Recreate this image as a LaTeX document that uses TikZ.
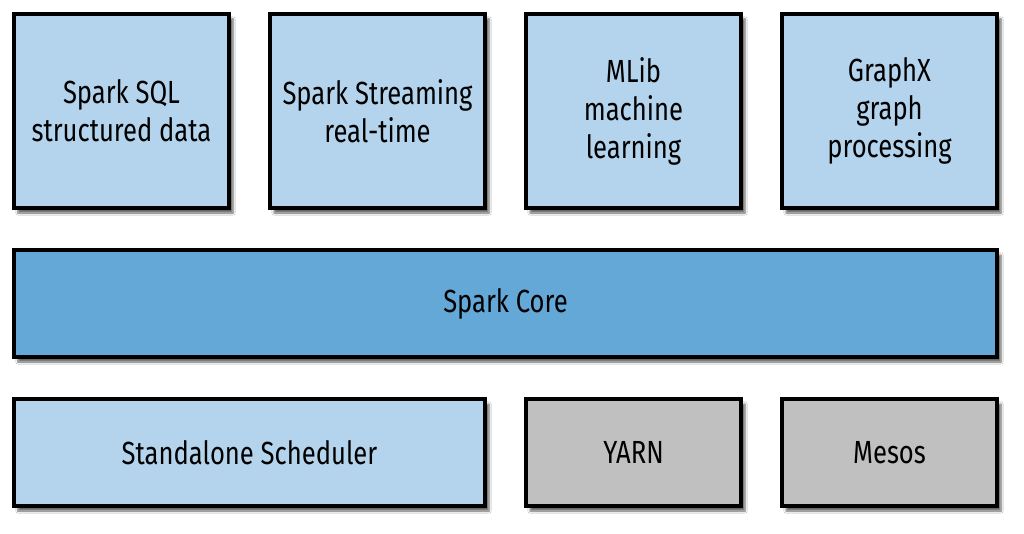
\documentclass[tikz,border=0pt]{standalone}
\usepackage{fontspec}
\setmainfont[FakeStretch=0.8]{Fira Sans}
\usetikzlibrary{shadows.blur}
\definecolor{lightblue}{HTML}{B3D4EC}
\definecolor{coreblue}{HTML}{64A8D8}
\definecolor{boxgray}{HTML}{C0C0C0}
\tikzset{
  block/.style={draw=black, line width=3.5pt, blur shadow={shadow xshift=4pt, shadow yshift=-5pt, shadow blur steps=6, shadow opacity=60},
    align=center, font=\fontsize{32}{38}\selectfont, text=black},
  lb/.style={block, fill=lightblue},
  cb/.style={block, fill=coreblue},
  gb/.style={block, fill=boxgray},
}
\begin{document}
\begin{tikzpicture}[x=1pt,y=-1pt]
\useasboundingbox[fill=white] (0,0) rectangle (1024,534);
\node[lb, minimum width=215pt, minimum height=194pt] (sql) at (121.5,111) {Spark SQL\\structured data};
\node[lb, minimum width=215pt, minimum height=194pt] (stream) at (377.5,111) {Spark Streaming\\real-time};
\node[lb, minimum width=215pt, minimum height=194pt] (mlib) at (633.5,111) {MLib\\machine\\learning};
\node[lb, minimum width=215pt, minimum height=194pt] (graphx) at (889.5,111) {GraphX\\graph\\processing};
\node[cb, minimum width=983pt, minimum height=107pt] (core) at (505.5,303.5) {Spark Core};
\node[lb, minimum width=471pt, minimum height=107pt] (standalone) at (249.5,452.5) {Standalone Scheduler};
\node[gb, minimum width=215pt, minimum height=107pt] (yarn) at (633.5,452.5) {YARN};
\node[gb, minimum width=215pt, minimum height=107pt] (mesos) at (889.5,452.5) {Mesos};
\end{tikzpicture}
\end{document}
